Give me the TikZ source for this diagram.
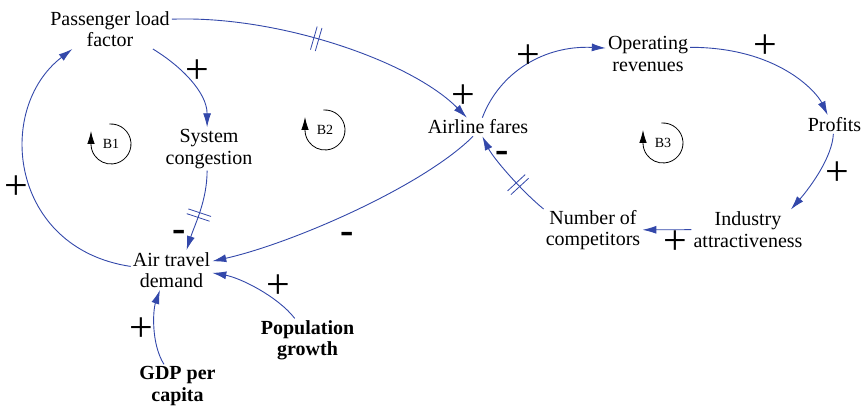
\documentclass[tikz,border=0pt]{standalone}
\usepackage{fontspec}
\setmainfont{Liberation Serif}
\usetikzlibrary{arrows.meta,decorations.markings}
\definecolor{linkblue}{RGB}{51,72,170}
\begin{document}
\begin{tikzpicture}[x=1pt,y=1pt,
  varnode/.style={inner sep=2pt, align=center, font=\fontsize{20}{21.5}\selectfont},
  exonode/.style={inner sep=2pt, align=center, font=\fontsize{20}{21.5}\selectfont\bfseries},
  causal/.style={draw=linkblue, line width=0.9pt, -{Latex[length=14pt,width=8pt]}},
  possign/.style={font=\fontsize{42}{42}\selectfont, inner sep=0pt},
  negsign/.style={font=\fontsize{40}{40}\selectfont\bfseries, inner sep=0pt},
  delaymark/.style={postaction={decorate}, decoration={markings, mark=at position #1 with {\draw[linkblue, line width=0.8pt, -] (-2.5pt,-12pt) -- (-2.5pt,12pt) (2.5pt,-12pt) -- (2.5pt,12pt);}}},
  fbloop/.style={draw=black, line width=0.8pt, -{Latex[length=13pt,width=7.5pt]}},
  looplabel/.style={font=\fontsize{14}{14}\selectfont, inner sep=0pt}
]
\useasboundingbox (0,0) rectangle (865,409);

% variables
\node[varnode] (plf) at (110,380) {Passenger load\\factor};
\node[varnode] (sc) at (209,260) {System\\congestion};
\node[varnode] (af) at (478,282) {Airline fares};
\node[varnode] (orev) at (648,355) {Operating\\revenues};
\node[varnode] (prof) at (834.5,284.5) {Profits};
\node[varnode] (ia) at (748,179.5) {Industry\\attractiveness};
\node[varnode] (noc) at (593,179) {Number of\\competitors};
\node[varnode] (atd) at (171.5,139) {Air travel\\demand};
\node[exonode] (pg) at (307.5,68.5) {Population\\growth};
\node[exonode] (gdp) at (177.5,23) {GDP per\\capita};

% causal links
\draw[causal] (plf.-25) .. controls +(28,-17) and +(0,35) .. (sc.95);
\draw[causal, delaymark=0.55] (sc.-95) .. controls +(0,-30) and +(8,25) .. (atd.53);
\draw[causal] (af.-118) .. controls +(-50,-50) and +(80,18) .. (atd.12);
\draw[causal] (atd.175) .. controls +(-121,18) and +(-78,-60) .. (plf.-152);
\draw[causal, delaymark=0.46] (plf.9) .. controls +(107,4) and +(-55,56) .. (af.140);
\draw[causal] (af.65) .. controls +(17,45) and +(-62,3) .. (orev.172);
\draw[causal] (orev.9) .. controls +(88,0) and +(-11,23) .. (prof.126);
\draw[causal] (prof.-97) .. controls +(-1,-23) and +(20,23) .. (ia.25);
\draw[causal] (ia) -- (noc);
\draw[causal, delaymark=0.37] (noc.157) .. controls +(-22,18) and +(11,-22) .. (af.-65);
\draw[causal] (pg.120) .. controls +(-17,22) and +(28,-5) .. (atd.-4);
\draw[causal] (gdp.122) .. controls +(-13,21) and +(-7,-20) .. (atd.-120);

% polarities
\node[possign] (s1) at (197,337) {+};
\node[negsign] (s2) at (179,173) {-};
\node[negsign] (s3) at (347,171) {-};
\node[possign] (s4) at (16,221) {+};
\node[possign] (s5) at (463,312) {+};
\node[possign] (s6) at (528,352) {+};
\node[possign] (s7) at (765,362) {+};
\node[possign] (s8) at (837,235) {+};
\node[possign] (s9) at (675,166) {+};
\node[negsign] (s10) at (502,252) {-};
\node[possign] (s11) at (278,122) {+};
\node[possign] (s12) at (141,79) {+};

% loop markers
\node[looplabel] (b1) at (111,265) {B1};
\node[looplabel] (b2) at (325,279) {B2};
\node[looplabel] (b3) at (663,266) {B3};
\draw[fbloop] ([shift={(95:20)}]b1.center) arc[start angle=95, end angle=-180, radius=20] -- ++(0,13);
\draw[fbloop] ([shift={(95:20)}]b2.center) arc[start angle=95, end angle=-180, radius=20] -- ++(0,13);
\draw[fbloop] ([shift={(95:20)}]b3.center) arc[start angle=95, end angle=-180, radius=20] -- ++(0,13);
\end{tikzpicture}
\end{document}
